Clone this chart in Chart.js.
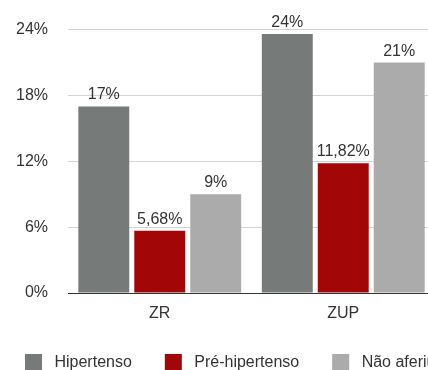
<html>
<head>
  <title></title>
  <style>
    body { margin: 0; overflow: hidden; background: #fff; }
    #wrap { width: 480px; height: 381px; }
  </style>
</head>
<body>
  <div id="wrap">
  <canvas id="myChart"></canvas>
</div>

<script src="https://cdn.jsdelivr.net/npm/chart.js"></script>

<script>
  const zonas = ['ZR', 'ZUP'];
  const hipertenso = [17, 23.6];
  const preHipertenso = [5.68, 11.82];
  const naoAferiu = [9, 21];
  const rotulosHip = ['17%', '24%'];
  const rotulosPre = ['5,68%', '11,82%'];
  const rotulosNao = ['9%', '21%'];
  const yTicks = [0, 6, 12, 18, 24];

  const font = 'Liberation Sans, Arial, Helvetica, sans-serif';
  const ctx = document.getElementById('myChart');

  // valores acima das barras
  const valueLabels = {
    id: 'valueLabels',
    afterDatasetsDraw(chart) {
      const c = chart.ctx;
      c.save();
      c.font = '16px ' + font;
      c.fillStyle = '#333';
      c.textAlign = 'center';
      c.textBaseline = 'alphabetic';
      chart.data.datasets.forEach((ds, i) => {
        chart.getDatasetMeta(i).data.forEach((bar, j) => {
          c.fillText(ds.rotulos[j], bar.x, bar.y - 7);
        });
      });
      c.restore();
    }
  };

  new Chart(ctx, {
    type: 'bar',
    data: {
      labels: zonas,
      datasets: [
        { label: 'Hipertenso', data: hipertenso, rotulos: rotulosHip, backgroundColor: '#767b79' },
        { label: 'Pré-hipertenso', data: preHipertenso, rotulos: rotulosPre, backgroundColor: '#a30606' },
        { label: 'Não aferiu', data: naoAferiu, rotulos: rotulosNao, backgroundColor: '#ababab' }
      ]
    },
    options: {
      responsive: true,
      maintainAspectRatio: false,
      animation: false,
      datasets: { bar: { categoryPercentage: 0.915, barPercentage: 0.91 } },
      layout: { padding: { top: 28, left: -8, right: 0, bottom: 0 } },
      plugins: {
        tooltip: { enabled: false },
        legend: {
          position: 'bottom',
          align: 'start',
          labels: {
            boxWidth: 17,
            boxHeight: 17,
            padding: 33,
            color: '#333',
            font: { family: font, size: 16 },
            generateLabels(chart) {
              return Chart.defaults.plugins.legend.labels.generateLabels(chart).map(l => {
                l.text = ' ' + l.text;
                l.lineWidth = 0;
                return l;
              });
            }
          }
        }
      },
      scales: {
        x: {
          afterFit: s => { s.height = 28; },
          grid: { display: false },
          border: { color: '#333', width: 1 },
          ticks: { color: '#333', padding: 3, font: { family: font, size: 16 } }
        },
        y: {
          min: 0,
          max: 24,
          afterFit: s => { s.width = 76; },
          afterBuildTicks: s => { s.ticks = yTicks.map(v => ({ value: v })); },
          grid: { color: '#d4d4d4', lineWidth: 1, drawTicks: false },
          border: { display: false },
          ticks: {
            color: '#333',
            padding: 20,
            font: { family: font, size: 16 },
            callback: v => v + '%'
          }
        },
        y2: {
          position: 'right',
          afterFit: s => { s.width = 45; },
          grid: { display: false },
          border: { display: false },
          ticks: { display: false }
        }
      }
    },
    plugins: [valueLabels]
  });
</script>

</body>
</html>
